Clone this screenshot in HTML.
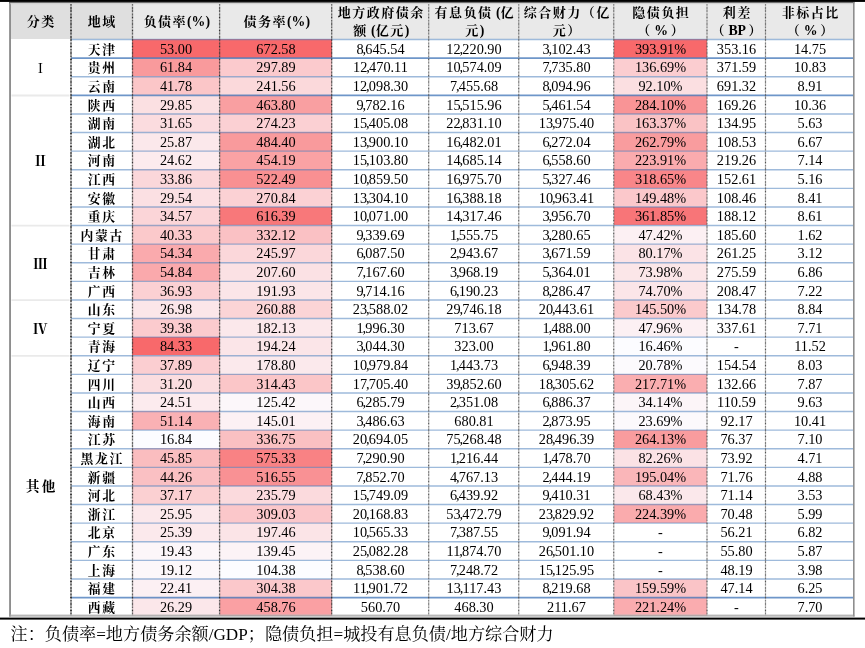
<!DOCTYPE html>
<html lang="zh-CN"><head><meta charset="utf-8"><title>table</title>
<style>
html,body{margin:0;padding:0;background:#fff;}
body{width:865px;height:648px;position:relative;overflow:hidden;font-family:"Liberation Serif","Noto Serif CJK SC",serif;color:#000;}
.c{position:absolute;display:flex;align-items:center;justify-content:center;text-align:center;font-size:14.3px;line-height:1;padding-top:1px;white-space:nowrap;box-sizing:border-box;}
.h{font-weight:bold;font-size:13px;line-height:18.2px;letter-spacing:1.5px;padding-left:1.5px;padding-top:2.2px;background:#E9E9E9;}
.l{letter-spacing:0;font-size:13.8px;}
.h.d{background:#DFDFDF;}
.r{font-weight:bold;font-size:12.8px;letter-spacing:1.7px;padding-top:3.2px;padding-left:1.7px;}
.g{font-size:14.3px;padding-top:2.5px;}
.g.b{font-weight:bold;}
.g.o{font-weight:bold;font-size:13.6px;letter-spacing:2.5px;padding-left:2.5px;padding-top:1.6px;}
.ln{position:absolute;background:#000;}
.note{position:absolute;left:10.5px;top:624px;font-size:17.15px;line-height:22px;white-space:nowrap;}
.m{margin:0 2.5px;}
.k{margin-left:-1.1px;margin-right:-0.8px;}
</style></head><body>

<div class="ln" style="left:0;top:0;width:865px;height:2px;background:linear-gradient(#000 0,#000 1.4px,#666 2px)"></div>
<div class="c h d" style="left:10.00px;top:3.50px;width:61.00px;height:35.50px"><div>分类</div></div>
<div class="c h d" style="left:71.00px;top:3.50px;width:61.00px;height:35.50px"><div>地域</div></div>
<div class="c h" style="left:132.00px;top:3.50px;width:88.00px;height:35.50px"><div>负债率<span class="l">(%)</span></div></div>
<div class="c h" style="left:220.00px;top:3.50px;width:112.00px;height:35.50px"><div>债务率<span class="l">(%)</span></div></div>
<div class="c h" style="left:332.00px;top:3.50px;width:97.00px;height:35.50px"><div>地方政府债余<br>额<span class="l"> (</span>亿元<span class="l">)</span></div></div>
<div class="c h" style="left:429.00px;top:3.50px;width:90.00px;height:35.50px"><div>有息负债<span class="l"> (</span>亿<br>元<span class="l">)</span></div></div>
<div class="c h" style="left:519.00px;top:3.50px;width:95.00px;height:35.50px"><div>综合财力（亿<br>元）</div></div>
<div class="c h" style="left:614.00px;top:3.50px;width:93.00px;height:35.50px"><div>隐债负担<br>（<span class="l m">%</span>）</div></div>
<div class="c h" style="left:707.00px;top:3.50px;width:59.00px;height:35.50px"><div>利差<br>（<span class="l m">BP</span>）</div></div>
<div class="c h" style="left:766.00px;top:3.50px;width:88.00px;height:35.50px"><div>非标占比<br>（<span class="l m">%</span>）</div></div>
<div class="c g" style="left:10.00px;top:39.00px;width:61.00px;height:56.00px">I</div>
<div class="c g b" style="left:10.00px;top:95.00px;width:61.00px;height:130.00px">Ⅱ</div>
<div class="c g b" style="left:10.00px;top:225.00px;width:61.00px;height:75.00px">Ⅲ</div>
<div class="c g b" style="left:10.00px;top:300.00px;width:61.00px;height:55.00px">Ⅳ</div>
<div class="c g o" style="left:10.00px;top:355.00px;width:61.00px;height:261.00px">其他</div>
<div class="c r" style="left:71px;top:39px;width:61px;height:19px"><span>天津</span></div>
<div class="c" style="left:132px;top:39px;width:88px;height:19px;background:#F8696B"><span>53.00</span></div>
<div class="c" style="left:220px;top:39px;width:112px;height:19px;background:#F8696B"><span>672.58</span></div>
<div class="c" style="left:332px;top:39px;width:97px;height:19px"><span>8<span class="k">,</span>645.54</span></div>
<div class="c" style="left:429px;top:39px;width:90px;height:19px"><span>12<span class="k">,</span>220.90</span></div>
<div class="c" style="left:519px;top:39px;width:95px;height:19px"><span>3<span class="k">,</span>102.43</span></div>
<div class="c" style="left:614px;top:39px;width:93px;height:19px;background:#F8696B"><span>393.91%</span></div>
<div class="c" style="left:707px;top:39px;width:59px;height:19px"><span>353.16</span></div>
<div class="c" style="left:766px;top:39px;width:88px;height:19px"><span>14.75</span></div>
<div class="c r" style="left:71px;top:58px;width:61px;height:18px"><span>贵州</span></div>
<div class="c" style="left:132px;top:58px;width:88px;height:18px;background:#F99A9C"><span>61.84</span></div>
<div class="c" style="left:220px;top:58px;width:112px;height:18px;background:#FBCACD"><span>297.89</span></div>
<div class="c" style="left:332px;top:58px;width:97px;height:18px"><span>12<span class="k">,</span>470.11</span></div>
<div class="c" style="left:429px;top:58px;width:90px;height:18px"><span>10<span class="k">,</span>574.09</span></div>
<div class="c" style="left:519px;top:58px;width:95px;height:18px"><span>7<span class="k">,</span>735.80</span></div>
<div class="c" style="left:614px;top:58px;width:93px;height:18px;background:#FBCDD0"><span>136.69%</span></div>
<div class="c" style="left:707px;top:58px;width:59px;height:18px"><span>371.59</span></div>
<div class="c" style="left:766px;top:58px;width:88px;height:18px"><span>10.83</span></div>
<div class="c r" style="left:71px;top:76px;width:61px;height:19px"><span>云南</span></div>
<div class="c" style="left:132px;top:76px;width:88px;height:19px;background:#FBC6C8"><span>41.78</span></div>
<div class="c" style="left:220px;top:76px;width:112px;height:19px;background:#FBD9DB"><span>241.56</span></div>
<div class="c" style="left:332px;top:76px;width:97px;height:19px"><span>12<span class="k">,</span>098.30</span></div>
<div class="c" style="left:429px;top:76px;width:90px;height:19px"><span>7<span class="k">,</span>455.68</span></div>
<div class="c" style="left:519px;top:76px;width:95px;height:19px"><span>8<span class="k">,</span>094.96</span></div>
<div class="c" style="left:614px;top:76px;width:93px;height:19px;background:#FBDFE1"><span>92.10%</span></div>
<div class="c" style="left:707px;top:76px;width:59px;height:19px"><span>691.32</span></div>
<div class="c" style="left:766px;top:76px;width:88px;height:19px"><span>8.91</span></div>
<div class="c r" style="left:71px;top:95px;width:61px;height:19px"><span>陕西</span></div>
<div class="c" style="left:132px;top:95px;width:88px;height:19px;background:#FBE0E2"><span>29.85</span></div>
<div class="c" style="left:220px;top:95px;width:112px;height:19px;background:#F99FA1"><span>463.80</span></div>
<div class="c" style="left:332px;top:95px;width:97px;height:19px"><span>9<span class="k">,</span>782.16</span></div>
<div class="c" style="left:429px;top:95px;width:90px;height:19px"><span>15<span class="k">,</span>515.96</span></div>
<div class="c" style="left:519px;top:95px;width:95px;height:19px"><span>5<span class="k">,</span>461.54</span></div>
<div class="c" style="left:614px;top:95px;width:93px;height:19px;background:#F99496"><span>284.10%</span></div>
<div class="c" style="left:707px;top:95px;width:59px;height:19px"><span>169.26</span></div>
<div class="c" style="left:766px;top:95px;width:88px;height:19px"><span>10.36</span></div>
<div class="c r" style="left:71px;top:114px;width:61px;height:18px"><span>湖南</span></div>
<div class="c" style="left:132px;top:114px;width:88px;height:18px;background:#FBDCDF"><span>31.65</span></div>
<div class="c" style="left:220px;top:114px;width:112px;height:18px;background:#FBD0D3"><span>274.23</span></div>
<div class="c" style="left:332px;top:114px;width:97px;height:18px"><span>15<span class="k">,</span>405.08</span></div>
<div class="c" style="left:429px;top:114px;width:90px;height:18px"><span>22<span class="k">,</span>831.10</span></div>
<div class="c" style="left:519px;top:114px;width:95px;height:18px"><span>13<span class="k">,</span>975.40</span></div>
<div class="c" style="left:614px;top:114px;width:93px;height:18px;background:#FAC3C5"><span>163.37%</span></div>
<div class="c" style="left:707px;top:114px;width:59px;height:18px"><span>134.95</span></div>
<div class="c" style="left:766px;top:114px;width:88px;height:18px"><span>5.63</span></div>
<div class="c r" style="left:71px;top:132px;width:61px;height:19px"><span>湖北</span></div>
<div class="c" style="left:132px;top:132px;width:88px;height:19px;background:#FBE8EB"><span>25.87</span></div>
<div class="c" style="left:220px;top:132px;width:112px;height:19px;background:#F99A9C"><span>484.40</span></div>
<div class="c" style="left:332px;top:132px;width:97px;height:19px"><span>13<span class="k">,</span>900.10</span></div>
<div class="c" style="left:429px;top:132px;width:90px;height:19px"><span>16<span class="k">,</span>482.01</span></div>
<div class="c" style="left:519px;top:132px;width:95px;height:19px"><span>6<span class="k">,</span>272.04</span></div>
<div class="c" style="left:614px;top:132px;width:93px;height:19px;background:#F99C9E"><span>262.79%</span></div>
<div class="c" style="left:707px;top:132px;width:59px;height:19px"><span>108.53</span></div>
<div class="c" style="left:766px;top:132px;width:88px;height:19px"><span>6.67</span></div>
<div class="c r" style="left:71px;top:151px;width:61px;height:18px"><span>河南</span></div>
<div class="c" style="left:132px;top:151px;width:88px;height:18px;background:#FCEBEE"><span>24.62</span></div>
<div class="c" style="left:220px;top:151px;width:112px;height:18px;background:#FAA2A4"><span>454.19</span></div>
<div class="c" style="left:332px;top:151px;width:97px;height:18px"><span>15<span class="k">,</span>103.80</span></div>
<div class="c" style="left:429px;top:151px;width:90px;height:18px"><span>14<span class="k">,</span>685.14</span></div>
<div class="c" style="left:519px;top:151px;width:95px;height:18px"><span>6<span class="k">,</span>558.60</span></div>
<div class="c" style="left:614px;top:151px;width:93px;height:18px;background:#FAABAE"><span>223.91%</span></div>
<div class="c" style="left:707px;top:151px;width:59px;height:18px"><span>219.26</span></div>
<div class="c" style="left:766px;top:151px;width:88px;height:18px"><span>7.14</span></div>
<div class="c r" style="left:71px;top:169px;width:61px;height:19px"><span>江西</span></div>
<div class="c" style="left:132px;top:169px;width:88px;height:19px;background:#FBD7DA"><span>33.86</span></div>
<div class="c" style="left:220px;top:169px;width:112px;height:19px;background:#F99092"><span>522.49</span></div>
<div class="c" style="left:332px;top:169px;width:97px;height:19px"><span>10<span class="k">,</span>859.50</span></div>
<div class="c" style="left:429px;top:169px;width:90px;height:19px"><span>16<span class="k">,</span>975.70</span></div>
<div class="c" style="left:519px;top:169px;width:95px;height:19px"><span>5<span class="k">,</span>327.46</span></div>
<div class="c" style="left:614px;top:169px;width:93px;height:19px;background:#F98689"><span>318.65%</span></div>
<div class="c" style="left:707px;top:169px;width:59px;height:19px"><span>152.61</span></div>
<div class="c" style="left:766px;top:169px;width:88px;height:19px"><span>5.16</span></div>
<div class="c r" style="left:71px;top:188px;width:61px;height:19px"><span>安徽</span></div>
<div class="c" style="left:132px;top:188px;width:88px;height:19px;background:#FBE0E3"><span>29.54</span></div>
<div class="c" style="left:220px;top:188px;width:112px;height:19px;background:#FBD1D4"><span>270.84</span></div>
<div class="c" style="left:332px;top:188px;width:97px;height:19px"><span>13<span class="k">,</span>304.10</span></div>
<div class="c" style="left:429px;top:188px;width:90px;height:19px"><span>16<span class="k">,</span>388.18</span></div>
<div class="c" style="left:519px;top:188px;width:95px;height:19px"><span>10<span class="k">,</span>963.41</span></div>
<div class="c" style="left:614px;top:188px;width:93px;height:19px;background:#FBC8CB"><span>149.48%</span></div>
<div class="c" style="left:707px;top:188px;width:59px;height:19px"><span>108.46</span></div>
<div class="c" style="left:766px;top:188px;width:88px;height:19px"><span>8.41</span></div>
<div class="c r" style="left:71px;top:207px;width:61px;height:18px"><span>重庆</span></div>
<div class="c" style="left:132px;top:207px;width:88px;height:18px;background:#FBD5D8"><span>34.57</span></div>
<div class="c" style="left:220px;top:207px;width:112px;height:18px;background:#F8787A"><span>616.39</span></div>
<div class="c" style="left:332px;top:207px;width:97px;height:18px"><span>10<span class="k">,</span>071.00</span></div>
<div class="c" style="left:429px;top:207px;width:90px;height:18px"><span>14<span class="k">,</span>317.46</span></div>
<div class="c" style="left:519px;top:207px;width:95px;height:18px"><span>3<span class="k">,</span>956.70</span></div>
<div class="c" style="left:614px;top:207px;width:93px;height:18px;background:#F87578"><span>361.85%</span></div>
<div class="c" style="left:707px;top:207px;width:59px;height:18px"><span>188.12</span></div>
<div class="c" style="left:766px;top:207px;width:88px;height:18px"><span>8.61</span></div>
<div class="c r" style="left:71px;top:225px;width:61px;height:19px"><span>内蒙古</span></div>
<div class="c" style="left:132px;top:225px;width:88px;height:19px;background:#FBC9CB"><span>40.33</span></div>
<div class="c" style="left:220px;top:225px;width:112px;height:19px;background:#FAC1C4"><span>332.12</span></div>
<div class="c" style="left:332px;top:225px;width:97px;height:19px"><span>9<span class="k">,</span>339.69</span></div>
<div class="c" style="left:429px;top:225px;width:90px;height:19px"><span>1<span class="k">,</span>555.75</span></div>
<div class="c" style="left:519px;top:225px;width:95px;height:19px"><span>3<span class="k">,</span>280.65</span></div>
<div class="c" style="left:614px;top:225px;width:93px;height:19px;background:#FCF0F3"><span>47.42%</span></div>
<div class="c" style="left:707px;top:225px;width:59px;height:19px"><span>185.60</span></div>
<div class="c" style="left:766px;top:225px;width:88px;height:19px"><span>1.62</span></div>
<div class="c r" style="left:71px;top:244px;width:61px;height:18px"><span>甘肃</span></div>
<div class="c" style="left:132px;top:244px;width:88px;height:18px;background:#FAAAAD"><span>54.34</span></div>
<div class="c" style="left:220px;top:244px;width:112px;height:18px;background:#FBD7DA"><span>245.97</span></div>
<div class="c" style="left:332px;top:244px;width:97px;height:18px"><span>6<span class="k">,</span>087.50</span></div>
<div class="c" style="left:429px;top:244px;width:90px;height:18px"><span>2<span class="k">,</span>943.67</span></div>
<div class="c" style="left:519px;top:244px;width:95px;height:18px"><span>3<span class="k">,</span>671.59</span></div>
<div class="c" style="left:614px;top:244px;width:93px;height:18px;background:#FBE3E6"><span>80.17%</span></div>
<div class="c" style="left:707px;top:244px;width:59px;height:18px"><span>261.25</span></div>
<div class="c" style="left:766px;top:244px;width:88px;height:18px"><span>3.12</span></div>
<div class="c r" style="left:71px;top:262px;width:61px;height:19px"><span>吉林</span></div>
<div class="c" style="left:132px;top:262px;width:88px;height:19px;background:#FAA9AC"><span>54.84</span></div>
<div class="c" style="left:220px;top:262px;width:112px;height:19px;background:#FBE1E4"><span>207.60</span></div>
<div class="c" style="left:332px;top:262px;width:97px;height:19px"><span>7<span class="k">,</span>167.60</span></div>
<div class="c" style="left:429px;top:262px;width:90px;height:19px"><span>3<span class="k">,</span>968.19</span></div>
<div class="c" style="left:519px;top:262px;width:95px;height:19px"><span>5<span class="k">,</span>364.01</span></div>
<div class="c" style="left:614px;top:262px;width:93px;height:19px;background:#FBE6E8"><span>73.98%</span></div>
<div class="c" style="left:707px;top:262px;width:59px;height:19px"><span>275.59</span></div>
<div class="c" style="left:766px;top:262px;width:88px;height:19px"><span>6.86</span></div>
<div class="c r" style="left:71px;top:281px;width:61px;height:19px"><span>广西</span></div>
<div class="c" style="left:132px;top:281px;width:88px;height:19px;background:#FBD0D3"><span>36.93</span></div>
<div class="c" style="left:220px;top:281px;width:112px;height:19px;background:#FBE5E8"><span>191.93</span></div>
<div class="c" style="left:332px;top:281px;width:97px;height:19px"><span>9<span class="k">,</span>714.16</span></div>
<div class="c" style="left:429px;top:281px;width:90px;height:19px"><span>6<span class="k">,</span>190.23</span></div>
<div class="c" style="left:519px;top:281px;width:95px;height:19px"><span>8<span class="k">,</span>286.47</span></div>
<div class="c" style="left:614px;top:281px;width:93px;height:19px;background:#FBE5E8"><span>74.70%</span></div>
<div class="c" style="left:707px;top:281px;width:59px;height:19px"><span>208.47</span></div>
<div class="c" style="left:766px;top:281px;width:88px;height:19px"><span>7.22</span></div>
<div class="c r" style="left:71px;top:300px;width:61px;height:18px"><span>山东</span></div>
<div class="c" style="left:132px;top:300px;width:88px;height:18px;background:#FBE6E9"><span>26.98</span></div>
<div class="c" style="left:220px;top:300px;width:112px;height:18px;background:#FBD4D6"><span>260.88</span></div>
<div class="c" style="left:332px;top:300px;width:97px;height:18px"><span>23<span class="k">,</span>588.02</span></div>
<div class="c" style="left:429px;top:300px;width:90px;height:18px"><span>29<span class="k">,</span>746.18</span></div>
<div class="c" style="left:519px;top:300px;width:95px;height:18px"><span>20<span class="k">,</span>443.61</span></div>
<div class="c" style="left:614px;top:300px;width:93px;height:18px;background:#FBCACC"><span>145.50%</span></div>
<div class="c" style="left:707px;top:300px;width:59px;height:18px"><span>134.78</span></div>
<div class="c" style="left:766px;top:300px;width:88px;height:18px"><span>8.84</span></div>
<div class="c r" style="left:71px;top:318px;width:61px;height:19px"><span>宁夏</span></div>
<div class="c" style="left:132px;top:318px;width:88px;height:19px;background:#FBCBCE"><span>39.38</span></div>
<div class="c" style="left:220px;top:318px;width:112px;height:19px;background:#FBE8EB"><span>182.13</span></div>
<div class="c" style="left:332px;top:318px;width:97px;height:19px"><span>1<span class="k">,</span>996.30</span></div>
<div class="c" style="left:429px;top:318px;width:90px;height:19px"><span>713.67</span></div>
<div class="c" style="left:519px;top:318px;width:95px;height:19px"><span>1<span class="k">,</span>488.00</span></div>
<div class="c" style="left:614px;top:318px;width:93px;height:19px;background:#FCF0F3"><span>47.96%</span></div>
<div class="c" style="left:707px;top:318px;width:59px;height:19px"><span>337.61</span></div>
<div class="c" style="left:766px;top:318px;width:88px;height:19px"><span>7.71</span></div>
<div class="c r" style="left:71px;top:337px;width:61px;height:18px"><span>青海</span></div>
<div class="c" style="left:132px;top:337px;width:88px;height:18px;background:#F8696B"><span>84.33</span></div>
<div class="c" style="left:220px;top:337px;width:112px;height:18px;background:#FBE5E8"><span>194.24</span></div>
<div class="c" style="left:332px;top:337px;width:97px;height:18px"><span>3<span class="k">,</span>044.30</span></div>
<div class="c" style="left:429px;top:337px;width:90px;height:18px"><span>323.00</span></div>
<div class="c" style="left:519px;top:337px;width:95px;height:18px"><span>1<span class="k">,</span>961.80</span></div>
<div class="c" style="left:614px;top:337px;width:93px;height:18px;background:#FCFCFF"><span>16.46%</span></div>
<div class="c" style="left:707px;top:337px;width:59px;height:18px"><span>-</span></div>
<div class="c" style="left:766px;top:337px;width:88px;height:18px"><span>11.52</span></div>
<div class="c r" style="left:71px;top:355px;width:61px;height:19px"><span>辽宁</span></div>
<div class="c" style="left:132px;top:355px;width:88px;height:19px;background:#FBCED1"><span>37.89</span></div>
<div class="c" style="left:220px;top:355px;width:112px;height:19px;background:#FBE9EC"><span>178.80</span></div>
<div class="c" style="left:332px;top:355px;width:97px;height:19px"><span>10<span class="k">,</span>979.84</span></div>
<div class="c" style="left:429px;top:355px;width:90px;height:19px"><span>1<span class="k">,</span>443.73</span></div>
<div class="c" style="left:519px;top:355px;width:95px;height:19px"><span>6<span class="k">,</span>948.39</span></div>
<div class="c" style="left:614px;top:355px;width:93px;height:19px;background:#FCFAFD"><span>20.78%</span></div>
<div class="c" style="left:707px;top:355px;width:59px;height:19px"><span>154.54</span></div>
<div class="c" style="left:766px;top:355px;width:88px;height:19px"><span>8.03</span></div>
<div class="c r" style="left:71px;top:374px;width:61px;height:19px"><span>四川</span></div>
<div class="c" style="left:132px;top:374px;width:88px;height:19px;background:#FBDDE0"><span>31.20</span></div>
<div class="c" style="left:220px;top:374px;width:112px;height:19px;background:#FBC6C8"><span>314.43</span></div>
<div class="c" style="left:332px;top:374px;width:97px;height:19px"><span>17<span class="k">,</span>705.40</span></div>
<div class="c" style="left:429px;top:374px;width:90px;height:19px"><span>39<span class="k">,</span>852.60</span></div>
<div class="c" style="left:519px;top:374px;width:95px;height:19px"><span>18<span class="k">,</span>305.62</span></div>
<div class="c" style="left:614px;top:374px;width:93px;height:19px;background:#FAAEB0"><span>217.71%</span></div>
<div class="c" style="left:707px;top:374px;width:59px;height:19px"><span>132.66</span></div>
<div class="c" style="left:766px;top:374px;width:88px;height:19px"><span>7.87</span></div>
<div class="c r" style="left:71px;top:393px;width:61px;height:18px"><span>山西</span></div>
<div class="c" style="left:132px;top:393px;width:88px;height:18px;background:#FCEBEE"><span>24.51</span></div>
<div class="c" style="left:220px;top:393px;width:112px;height:18px;background:#FCF7FA"><span>125.42</span></div>
<div class="c" style="left:332px;top:393px;width:97px;height:18px"><span>6<span class="k">,</span>285.79</span></div>
<div class="c" style="left:429px;top:393px;width:90px;height:18px"><span>2<span class="k">,</span>351.08</span></div>
<div class="c" style="left:519px;top:393px;width:95px;height:18px"><span>6<span class="k">,</span>886.37</span></div>
<div class="c" style="left:614px;top:393px;width:93px;height:18px;background:#FCF5F8"><span>34.14%</span></div>
<div class="c" style="left:707px;top:393px;width:59px;height:18px"><span>110.59</span></div>
<div class="c" style="left:766px;top:393px;width:88px;height:18px"><span>9.63</span></div>
<div class="c r" style="left:71px;top:411px;width:61px;height:19px"><span>海南</span></div>
<div class="c" style="left:132px;top:411px;width:88px;height:19px;background:#FAB1B4"><span>51.14</span></div>
<div class="c" style="left:220px;top:411px;width:112px;height:19px;background:#FCF1F4"><span>145.01</span></div>
<div class="c" style="left:332px;top:411px;width:97px;height:19px"><span>3<span class="k">,</span>486.63</span></div>
<div class="c" style="left:429px;top:411px;width:90px;height:19px"><span>680.81</span></div>
<div class="c" style="left:519px;top:411px;width:95px;height:19px"><span>2<span class="k">,</span>873.95</span></div>
<div class="c" style="left:614px;top:411px;width:93px;height:19px;background:#FCF9FC"><span>23.69%</span></div>
<div class="c" style="left:707px;top:411px;width:59px;height:19px"><span>92.17</span></div>
<div class="c" style="left:766px;top:411px;width:88px;height:19px"><span>10.41</span></div>
<div class="c r" style="left:71px;top:430px;width:61px;height:18px"><span>江苏</span></div>
<div class="c" style="left:132px;top:430px;width:88px;height:18px;background:#FCFCFF"><span>16.84</span></div>
<div class="c" style="left:220px;top:430px;width:112px;height:18px;background:#FAC0C2"><span>336.75</span></div>
<div class="c" style="left:332px;top:430px;width:97px;height:18px"><span>20<span class="k">,</span>694.05</span></div>
<div class="c" style="left:429px;top:430px;width:90px;height:18px"><span>75<span class="k">,</span>268.48</span></div>
<div class="c" style="left:519px;top:430px;width:95px;height:18px"><span>28<span class="k">,</span>496.39</span></div>
<div class="c" style="left:614px;top:430px;width:93px;height:18px;background:#F99C9E"><span>264.13%</span></div>
<div class="c" style="left:707px;top:430px;width:59px;height:18px"><span>76.37</span></div>
<div class="c" style="left:766px;top:430px;width:88px;height:18px"><span>7.10</span></div>
<div class="c r" style="left:71px;top:448px;width:61px;height:19px"><span>黑龙江</span></div>
<div class="c" style="left:132px;top:448px;width:88px;height:19px;background:#FABDBF"><span>45.85</span></div>
<div class="c" style="left:220px;top:448px;width:112px;height:19px;background:#F98284"><span>575.33</span></div>
<div class="c" style="left:332px;top:448px;width:97px;height:19px"><span>7<span class="k">,</span>290.90</span></div>
<div class="c" style="left:429px;top:448px;width:90px;height:19px"><span>1<span class="k">,</span>216.44</span></div>
<div class="c" style="left:519px;top:448px;width:95px;height:19px"><span>1<span class="k">,</span>478.70</span></div>
<div class="c" style="left:614px;top:448px;width:93px;height:19px;background:#FBE2E5"><span>82.26%</span></div>
<div class="c" style="left:707px;top:448px;width:59px;height:19px"><span>73.92</span></div>
<div class="c" style="left:766px;top:448px;width:88px;height:19px"><span>4.71</span></div>
<div class="c r" style="left:71px;top:467px;width:61px;height:19px"><span>新疆</span></div>
<div class="c" style="left:132px;top:467px;width:88px;height:19px;background:#FAC0C3"><span>44.26</span></div>
<div class="c" style="left:220px;top:467px;width:112px;height:19px;background:#F99194"><span>516.55</span></div>
<div class="c" style="left:332px;top:467px;width:97px;height:19px"><span>7<span class="k">,</span>852.70</span></div>
<div class="c" style="left:429px;top:467px;width:90px;height:19px"><span>4<span class="k">,</span>767.13</span></div>
<div class="c" style="left:519px;top:467px;width:95px;height:19px"><span>2<span class="k">,</span>444.19</span></div>
<div class="c" style="left:614px;top:467px;width:93px;height:19px;background:#FAB6B9"><span>195.04%</span></div>
<div class="c" style="left:707px;top:467px;width:59px;height:19px"><span>71.76</span></div>
<div class="c" style="left:766px;top:467px;width:88px;height:19px"><span>4.88</span></div>
<div class="c r" style="left:71px;top:486px;width:61px;height:18px"><span>河北</span></div>
<div class="c" style="left:132px;top:486px;width:88px;height:18px;background:#FBD0D2"><span>37.17</span></div>
<div class="c" style="left:220px;top:486px;width:112px;height:18px;background:#FBDADD"><span>235.79</span></div>
<div class="c" style="left:332px;top:486px;width:97px;height:18px"><span>15<span class="k">,</span>749.09</span></div>
<div class="c" style="left:429px;top:486px;width:90px;height:18px"><span>6<span class="k">,</span>439.92</span></div>
<div class="c" style="left:519px;top:486px;width:95px;height:18px"><span>9<span class="k">,</span>410.31</span></div>
<div class="c" style="left:614px;top:486px;width:93px;height:18px;background:#FBE8EB"><span>68.43%</span></div>
<div class="c" style="left:707px;top:486px;width:59px;height:18px"><span>71.14</span></div>
<div class="c" style="left:766px;top:486px;width:88px;height:18px"><span>3.53</span></div>
<div class="c r" style="left:71px;top:504px;width:61px;height:19px"><span>浙江</span></div>
<div class="c" style="left:132px;top:504px;width:88px;height:19px;background:#FBE8EB"><span>25.95</span></div>
<div class="c" style="left:220px;top:504px;width:112px;height:19px;background:#FBC7CA"><span>309.03</span></div>
<div class="c" style="left:332px;top:504px;width:97px;height:19px"><span>20<span class="k">,</span>168.83</span></div>
<div class="c" style="left:429px;top:504px;width:90px;height:19px"><span>53<span class="k">,</span>472.79</span></div>
<div class="c" style="left:519px;top:504px;width:95px;height:19px"><span>23<span class="k">,</span>829.92</span></div>
<div class="c" style="left:614px;top:504px;width:93px;height:19px;background:#FAABAD"><span>224.39%</span></div>
<div class="c" style="left:707px;top:504px;width:59px;height:19px"><span>70.48</span></div>
<div class="c" style="left:766px;top:504px;width:88px;height:19px"><span>5.99</span></div>
<div class="c r" style="left:71px;top:523px;width:61px;height:18px"><span>北京</span></div>
<div class="c" style="left:132px;top:523px;width:88px;height:18px;background:#FBE9EC"><span>25.39</span></div>
<div class="c" style="left:220px;top:523px;width:112px;height:18px;background:#FBE4E7"><span>197.46</span></div>
<div class="c" style="left:332px;top:523px;width:97px;height:18px"><span>10<span class="k">,</span>565.33</span></div>
<div class="c" style="left:429px;top:523px;width:90px;height:18px"><span>7<span class="k">,</span>387.55</span></div>
<div class="c" style="left:519px;top:523px;width:95px;height:18px"><span>9<span class="k">,</span>091.94</span></div>
<div class="c" style="left:614px;top:523px;width:93px;height:18px;background:#FFFFFF"><span>-</span></div>
<div class="c" style="left:707px;top:523px;width:59px;height:18px"><span>56.21</span></div>
<div class="c" style="left:766px;top:523px;width:88px;height:18px"><span>6.82</span></div>
<div class="c r" style="left:71px;top:541px;width:61px;height:19px"><span>广东</span></div>
<div class="c" style="left:132px;top:541px;width:88px;height:19px;background:#FCF6F9"><span>19.43</span></div>
<div class="c" style="left:220px;top:541px;width:112px;height:19px;background:#FCF3F6"><span>139.45</span></div>
<div class="c" style="left:332px;top:541px;width:97px;height:19px"><span>25<span class="k">,</span>082.28</span></div>
<div class="c" style="left:429px;top:541px;width:90px;height:19px"><span>11<span class="k">,</span>874.70</span></div>
<div class="c" style="left:519px;top:541px;width:95px;height:19px"><span>26<span class="k">,</span>501.10</span></div>
<div class="c" style="left:614px;top:541px;width:93px;height:19px;background:#FFFFFF"><span>-</span></div>
<div class="c" style="left:707px;top:541px;width:59px;height:19px"><span>55.80</span></div>
<div class="c" style="left:766px;top:541px;width:88px;height:19px"><span>5.87</span></div>
<div class="c r" style="left:71px;top:560px;width:61px;height:19px"><span>上海</span></div>
<div class="c" style="left:132px;top:560px;width:88px;height:19px;background:#FCF7FA"><span>19.12</span></div>
<div class="c" style="left:220px;top:560px;width:112px;height:19px;background:#FCFCFF"><span>104.38</span></div>
<div class="c" style="left:332px;top:560px;width:97px;height:19px"><span>8<span class="k">,</span>538.60</span></div>
<div class="c" style="left:429px;top:560px;width:90px;height:19px"><span>7<span class="k">,</span>248.72</span></div>
<div class="c" style="left:519px;top:560px;width:95px;height:19px"><span>15<span class="k">,</span>125.95</span></div>
<div class="c" style="left:614px;top:560px;width:93px;height:19px;background:#FFFFFF"><span>-</span></div>
<div class="c" style="left:707px;top:560px;width:59px;height:19px"><span>48.19</span></div>
<div class="c" style="left:766px;top:560px;width:88px;height:19px"><span>3.98</span></div>
<div class="c r" style="left:71px;top:579px;width:61px;height:18px"><span>福建</span></div>
<div class="c" style="left:132px;top:579px;width:88px;height:18px;background:#FCF0F3"><span>22.41</span></div>
<div class="c" style="left:220px;top:579px;width:112px;height:18px;background:#FBC8CB"><span>304.38</span></div>
<div class="c" style="left:332px;top:579px;width:97px;height:18px"><span>11<span class="k">,</span>901.72</span></div>
<div class="c" style="left:429px;top:579px;width:90px;height:18px"><span>13<span class="k">,</span>117.43</span></div>
<div class="c" style="left:519px;top:579px;width:95px;height:18px"><span>8<span class="k">,</span>219.68</span></div>
<div class="c" style="left:614px;top:579px;width:93px;height:18px;background:#FAC4C7"><span>159.59%</span></div>
<div class="c" style="left:707px;top:579px;width:59px;height:18px"><span>47.14</span></div>
<div class="c" style="left:766px;top:579px;width:88px;height:18px"><span>6.25</span></div>
<div class="c r" style="left:71px;top:597px;width:61px;height:19px"><span>西藏</span></div>
<div class="c" style="left:132px;top:597px;width:88px;height:19px;background:#FBE7EA"><span>26.29</span></div>
<div class="c" style="left:220px;top:597px;width:112px;height:19px;background:#FAA0A3"><span>458.76</span></div>
<div class="c" style="left:332px;top:597px;width:97px;height:19px"><span>560.70</span></div>
<div class="c" style="left:429px;top:597px;width:90px;height:19px"><span>468.30</span></div>
<div class="c" style="left:519px;top:597px;width:95px;height:19px"><span>211.67</span></div>
<div class="c" style="left:614px;top:597px;width:93px;height:19px;background:#FAACAF"><span>221.24%</span></div>
<div class="c" style="left:707px;top:597px;width:59px;height:19px"><span>-</span></div>
<div class="c" style="left:766px;top:597px;width:88px;height:19px"><span>7.70</span></div>
<svg width="865" height="648" viewBox="0 0 865 648" style="position:absolute;left:0;top:0">
<line x1="71.00" y1="39.55" x2="854" y2="39.55" stroke="#4F81BD" stroke-opacity="0.55" stroke-width="1.4"/>
<line x1="71.00" y1="58.15" x2="854" y2="58.15" stroke="#4A7CBC" stroke-opacity="0.8" stroke-width="1.7"/>
<line x1="71.00" y1="76.75" x2="854" y2="76.75" stroke="#4F81BD" stroke-opacity="0.55" stroke-width="1.4"/>
<line x1="71.00" y1="95.35" x2="854" y2="95.35" stroke="#4A7CBC" stroke-opacity="0.8" stroke-width="1.7"/>
<line x1="71.00" y1="113.95" x2="854" y2="113.95" stroke="#4F81BD" stroke-opacity="0.55" stroke-width="1.4"/>
<line x1="71.00" y1="132.55" x2="854" y2="132.55" stroke="#4F81BD" stroke-opacity="0.55" stroke-width="1.4"/>
<line x1="71.00" y1="151.15" x2="854" y2="151.15" stroke="#4F81BD" stroke-opacity="0.55" stroke-width="1.4"/>
<line x1="71.00" y1="169.75" x2="854" y2="169.75" stroke="#4F81BD" stroke-opacity="0.55" stroke-width="1.4"/>
<line x1="71.00" y1="188.35" x2="854" y2="188.35" stroke="#4F81BD" stroke-opacity="0.55" stroke-width="1.4"/>
<line x1="71.00" y1="206.95" x2="854" y2="206.95" stroke="#4F81BD" stroke-opacity="0.55" stroke-width="1.4"/>
<line x1="71.00" y1="225.55" x2="854" y2="225.55" stroke="#4F81BD" stroke-opacity="0.55" stroke-width="1.4"/>
<line x1="71.00" y1="244.15" x2="854" y2="244.15" stroke="#4F81BD" stroke-opacity="0.55" stroke-width="1.4"/>
<line x1="71.00" y1="262.75" x2="854" y2="262.75" stroke="#4F81BD" stroke-opacity="0.55" stroke-width="1.4"/>
<line x1="71.00" y1="281.35" x2="854" y2="281.35" stroke="#4F81BD" stroke-opacity="0.55" stroke-width="1.4"/>
<line x1="71.00" y1="299.95" x2="854" y2="299.95" stroke="#4F81BD" stroke-opacity="0.55" stroke-width="1.4"/>
<line x1="71.00" y1="318.55" x2="854" y2="318.55" stroke="#4F81BD" stroke-opacity="0.55" stroke-width="1.4"/>
<line x1="71.00" y1="337.15" x2="854" y2="337.15" stroke="#4F81BD" stroke-opacity="0.55" stroke-width="1.4"/>
<line x1="71.00" y1="355.75" x2="854" y2="355.75" stroke="#4F81BD" stroke-opacity="0.55" stroke-width="1.4"/>
<line x1="71.00" y1="374.35" x2="854" y2="374.35" stroke="#4F81BD" stroke-opacity="0.55" stroke-width="1.4"/>
<line x1="71.00" y1="392.95" x2="854" y2="392.95" stroke="#4F81BD" stroke-opacity="0.55" stroke-width="1.4"/>
<line x1="71.00" y1="411.55" x2="854" y2="411.55" stroke="#4F81BD" stroke-opacity="0.55" stroke-width="1.4"/>
<line x1="71.00" y1="430.15" x2="854" y2="430.15" stroke="#4F81BD" stroke-opacity="0.55" stroke-width="1.4"/>
<line x1="71.00" y1="448.75" x2="854" y2="448.75" stroke="#4F81BD" stroke-opacity="0.55" stroke-width="1.4"/>
<line x1="71.00" y1="467.35" x2="854" y2="467.35" stroke="#4F81BD" stroke-opacity="0.55" stroke-width="1.4"/>
<line x1="71.00" y1="485.95" x2="854" y2="485.95" stroke="#4F81BD" stroke-opacity="0.55" stroke-width="1.4"/>
<line x1="71.00" y1="504.55" x2="854" y2="504.55" stroke="#4F81BD" stroke-opacity="0.55" stroke-width="1.4"/>
<line x1="71.00" y1="523.15" x2="854" y2="523.15" stroke="#4F81BD" stroke-opacity="0.55" stroke-width="1.4"/>
<line x1="71.00" y1="541.75" x2="854" y2="541.75" stroke="#4F81BD" stroke-opacity="0.55" stroke-width="1.4"/>
<line x1="71.00" y1="560.35" x2="854" y2="560.35" stroke="#4F81BD" stroke-opacity="0.55" stroke-width="1.4"/>
<line x1="71.00" y1="578.95" x2="854" y2="578.95" stroke="#4F81BD" stroke-opacity="0.55" stroke-width="1.4"/>
<line x1="71.00" y1="597.55" x2="854" y2="597.55" stroke="#4A7CBC" stroke-opacity="0.8" stroke-width="1.7"/>
<line x1="11.50" y1="95.50" x2="69.50" y2="95.50" stroke="#EAEAEA" stroke-width="1.8"/>
<line x1="11.50" y1="225.70" x2="69.50" y2="225.70" stroke="#EAEAEA" stroke-width="1.8"/>
<line x1="11.50" y1="300.10" x2="69.50" y2="300.10" stroke="#EAEAEA" stroke-width="1.8"/>
<line x1="11.50" y1="355.90" x2="69.50" y2="355.90" stroke="#EAEAEA" stroke-width="1.8"/>
<line x1="71.00" y1="4" x2="71.00" y2="615.70" stroke="#2b2b2b" stroke-width="1.8" stroke-dasharray="0.85 0.6"/>
<line x1="132.50" y1="4" x2="132.50" y2="615.70" stroke="#333" stroke-width="1.3" stroke-dasharray="0.85 0.6"/>
<line x1="219.60" y1="4" x2="219.60" y2="615.70" stroke="#333" stroke-width="1.3" stroke-dasharray="0.85 0.6"/>
<line x1="331.70" y1="4" x2="331.70" y2="615.70" stroke="#333" stroke-width="1.3" stroke-dasharray="0.85 0.6"/>
<line x1="428.70" y1="4" x2="428.70" y2="615.70" stroke="#555" stroke-width="1.2" stroke-dasharray="0.85 0.6"/>
<line x1="518.75" y1="4" x2="518.75" y2="615.70" stroke="#555" stroke-width="1.2" stroke-dasharray="0.85 0.6"/>
<line x1="613.75" y1="4" x2="613.75" y2="615.70" stroke="#555" stroke-width="1.2" stroke-dasharray="0.85 0.6"/>
<line x1="707.00" y1="4" x2="707.00" y2="615.70" stroke="#555" stroke-width="1.2" stroke-dasharray="0.85 0.6"/>
<line x1="765.50" y1="4" x2="765.50" y2="615.70" stroke="#555" stroke-width="1.2" stroke-dasharray="0.85 0.6"/>
<line x1="10.05" y1="2.2" x2="10.05" y2="616.50" stroke="#8E8E8E" stroke-width="1.9"/>
<line x1="9" y1="2.7" x2="854.6" y2="2.7" stroke="#6E6E6E" stroke-width="1.3"/>
<line x1="10" y1="3.7" x2="853" y2="3.7" stroke="#CDCDCD" stroke-width="0.8"/>
<line x1="853.8" y1="2.2" x2="853.8" y2="616.50" stroke="#8E8E8E" stroke-width="1.6"/>
<line x1="10" y1="615.10" x2="853" y2="615.10" stroke="#B8B8B8" stroke-width="1"/>
<line x1="9" y1="616.00" x2="854.6" y2="616.00" stroke="#9A9A9A" stroke-width="1"/>
<rect x="0" y="617.6" width="865" height="2" fill="#000"/>
</svg>
<div class="note">注：负债率=地方债务余额/GDP；隐债负担=城投有息负债/地方综合财力</div>
</body></html>
